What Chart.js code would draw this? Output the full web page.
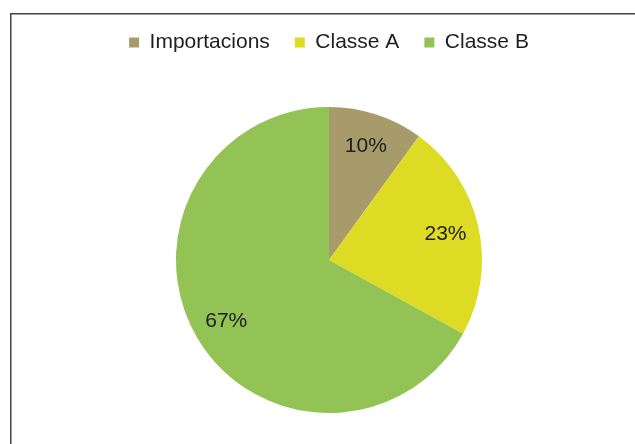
<!DOCTYPE html>
<html>
<head>
<meta charset="utf-8">
<script src="https://cdn.jsdelivr.net/npm/chart.js@4.4.1/dist/chart.umd.min.js"></script>
<style>
  html, body { margin: 0; padding: 0; background: #fff; overflow: hidden; }
  #wrap { width: 635px; height: 444px; overflow: hidden; }
</style>
</head>
<body>
<div id="wrap"><canvas id="pieChart" width="635" height="457"></canvas></div>
<script>
// Dades del gràfic
const categories = ['Importacions', 'Classe A', 'Classe B'];
const shares = [10, 23, 67];
const sliceColors = ['#A89B6B', '#DEDB24', '#93C255'];

// marc del gràfic (com a la imatge original)
const framePlugin = {
  id: 'frame',
  beforeDraw(chart) {
    const ctx = chart.ctx;
    ctx.save();
    ctx.strokeStyle = '#444';
    ctx.lineWidth = 1.5;
    ctx.strokeRect(10.75, 13.75, 700, 500);
    ctx.restore();
  }
};

// etiquetes de percentatge dins de cada porció
const pctLabels = {
  id: 'pctLabels',
  afterDatasetsDraw(chart) {
    const ctx = chart.ctx;
    const meta = chart.getDatasetMeta(0);
    const total = shares.reduce((a, b) => a + b, 0);
    ctx.save();
    ctx.font = '21px "Liberation Sans", Arial, sans-serif';
    ctx.fillStyle = '#1e1e1e';
    ctx.textAlign = 'center';
    ctx.textBaseline = 'middle';
    meta.data.forEach((arc, i) => {
      const p = arc.getProps(['x', 'y', 'startAngle', 'endAngle', 'outerRadius'], true);
      const mid = (p.startAngle + p.endAngle) / 2;
      const r = p.outerRadius * 0.78;
      const x = p.x + Math.cos(mid) * r;
      const y = p.y + Math.sin(mid) * r;
      ctx.fillText(Math.round(shares[i] / total * 100) + '%', x, y);
    });
    ctx.restore();
  }
};

const ctx = document.getElementById('pieChart').getContext('2d');
const chart = new Chart(ctx, {
  type: 'pie',
  data: {
    labels: categories,
    datasets: [{
      data: shares,
      backgroundColor: sliceColors,
      borderWidth: 0,
      radius: 153
    }]
  },
  options: {
    responsive: false,
    animation: false,
    layout: {
      padding: { top: 7, bottom: 0, left: 23, right: 0 }
    },
    plugins: {
      legend: {
        position: 'top',
        labels: {
          boxWidth: 10,
          boxHeight: 10,
          padding: 25,
          color: '#1e1e1e',
          font: { family: '"Liberation Sans", Arial, sans-serif', size: 21 }
        }
      },
      tooltip: { enabled: false }
    }
  },
  plugins: [framePlugin, pctLabels]
});
</script>
</body>
</html>
